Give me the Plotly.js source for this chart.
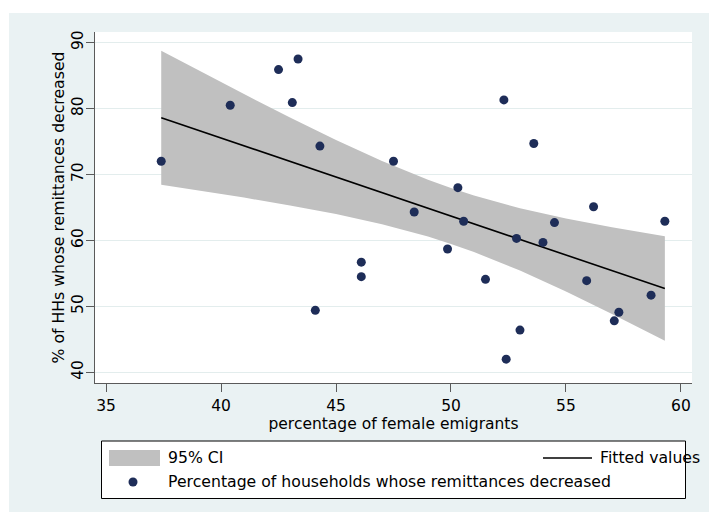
<!DOCTYPE html>
<html>
<head>
<meta charset="utf-8">
<script src="https://cdn.plot.ly/plotly-3.0.1.min.js"></script>
<style>
  html, body { margin: 0; padding: 0; background: #ffffff; }
  #chart { position: absolute; left: 9px; top: 13px; width: 700px; height: 499px; }
</style>
</head>
<body>
<div id="chart"></div>
<script>
// ---- data ----
const femaleEmigrantsPct = [37.4, 40.4, 42.5, 43.35, 43.1, 44.3, 44.1, 46.1, 46.1, 47.5, 48.4, 49.85, 50.3, 50.55,
  51.5, 52.3, 52.4, 52.85, 53.0, 53.6, 54.0, 54.5, 55.9, 56.2, 57.1, 57.3, 58.7, 59.3];
const remittancesDecreasedPct = [72.0, 80.5, 85.9, 87.5, 80.9, 74.3, 49.4, 56.7, 54.5, 72.0, 64.3, 58.7, 68.0, 62.9,
  54.1, 81.3, 42.0, 60.3, 46.4, 74.7, 59.7, 62.7, 53.9, 65.1, 47.8, 49.1, 51.7, 62.9];

const ciX     = [37.4, 39, 41, 43, 45, 47, 49, 50, 51, 53, 55, 57, 59.3];
const ciUpper = [88.75, 85.82, 82.19, 78.65, 75.23, 72.04, 69.18, 67.93, 66.80, 64.88, 63.33, 61.99, 60.62];
const ciLower = [68.45, 67.60, 66.49, 65.31, 63.99, 62.46, 60.58, 59.47, 58.24, 55.42, 52.25, 48.85, 44.78];

const fitX = [37.4, 59.3];
const fitY = [78.6, 52.7];

const xTickVals = [35, 40, 45, 50, 55, 60];
const yTickVals = [40, 50, 60, 70, 80, 90];

const labelCI = "95% CI";
const labelFit = "Fitted values";
const labelPoints = "Percentage of households whose remittances decreased";
const xTitle = "percentage of female emigrants";
const yTitle = "% of HHs whose remittances decreased";

// ---- styling ----
const FONT = "DejaVu Sans, Liberation Sans, Arial, sans-serif";
const NAVY = "#1e2d58";
const BAND = "#c0c0c0";
const BG = "#eaf2f3";
const GRID = "#e3eded";
const AXIS = "#5a5a5a";
const TXT = 15.5;
const LEG = 15.7;

// plot-area placement (page pixels) used to place the hand-drawn legend
const PA = { left: 95, right: 692, top: 32, bottom: 383 };
const px = p => (p - PA.left) / (PA.right - PA.left);
const py = p => (PA.bottom - p) / (PA.bottom - PA.top);

const traces = [
  { x: ciX, y: ciLower, type: "scatter", mode: "lines", line: { width: 0, color: BAND },
    hoverinfo: "skip", showlegend: false },
  { x: ciX, y: ciUpper, type: "scatter", mode: "lines", line: { width: 0, color: BAND },
    fill: "tonexty", fillcolor: BAND, name: labelCI, showlegend: false },
  { x: fitX, y: fitY, type: "scatter", mode: "lines", line: { color: "#000000", width: 1.6 },
    name: labelFit, showlegend: false },
  { x: femaleEmigrantsPct, y: remittancesDecreasedPct, type: "scatter", mode: "markers",
    marker: { color: NAVY, size: 9 }, name: labelPoints, showlegend: false }
];

const layout = {
  width: 700, height: 499,
  margin: { l: 86, r: 17, t: 19, b: 129 },
  paper_bgcolor: BG,
  plot_bgcolor: "#ffffff",
  font: { family: FONT, size: TXT, color: "#000000" },
  showlegend: false,
  xaxis: {
    range: [34.52, 60.48],
    tickvals: xTickVals,
    ticks: "outside", ticklen: 8, tickwidth: 1, tickcolor: AXIS,
    showline: true, linecolor: AXIS, linewidth: 1,
    showgrid: false, zeroline: false,
    tickfont: { family: FONT, size: TXT, color: "#000000" },
    title: { text: xTitle, font: { family: FONT, size: TXT, color: "#000000" }, standoff: 3 }
  },
  yaxis: {
    range: [38.38, 91.6],
    tickvals: yTickVals,
    tickangle: -90,
    ticklabelstandoff: -3,
    ticks: "outside", ticklen: 8, tickwidth: 1, tickcolor: AXIS,
    showline: true, linecolor: AXIS, linewidth: 1,
    showgrid: true, gridcolor: GRID, gridwidth: 1.2,
    zeroline: false,
    tickfont: { family: FONT, size: TXT, color: "#000000" },
    title: { text: yTitle, font: { family: FONT, size: LEG, color: "#000000" }, standoff: 0 }
  },
  shapes: [
    { type: "rect", xref: "paper", yref: "paper", x0: px(101.5), x1: px(685.5), y0: py(498.5), y1: py(441),
      line: { color: "#000000", width: 1 }, fillcolor: "#ffffff", layer: "above" },
    { type: "rect", xref: "paper", yref: "paper", x0: px(109), x1: px(160), y0: py(466), y1: py(450),
      line: { width: 0 }, fillcolor: BAND, layer: "above" },
    { type: "line", xref: "paper", yref: "paper", x0: px(543), x1: px(592), y0: py(458), y1: py(458),
      line: { color: "#000000", width: 1.6 }, layer: "above" },
    { type: "circle", xref: "paper", yref: "paper", x0: px(128.5), x1: px(137.5), y0: py(486.5), y1: py(477.5),
      line: { width: 0 }, fillcolor: NAVY, layer: "above" }
  ],
  annotations: [
    { xref: "paper", yref: "paper", x: px(166), y: py(458), xanchor: "left", yanchor: "middle",
      text: labelCI, showarrow: false, font: { family: FONT, size: LEG, color: "#000000" } },
    { xref: "paper", yref: "paper", x: px(598), y: py(458), xanchor: "left", yanchor: "middle",
      text: labelFit, showarrow: false, font: { family: FONT, size: LEG, color: "#000000" } },
    { xref: "paper", yref: "paper", x: px(166), y: py(482), xanchor: "left", yanchor: "middle",
      text: labelPoints, showarrow: false, font: { family: FONT, size: LEG, color: "#000000" } }
  ]
};

Plotly.newPlot("chart", traces, layout, { staticPlot: true, displayModeBar: false });
</script>
</body>
</html>
